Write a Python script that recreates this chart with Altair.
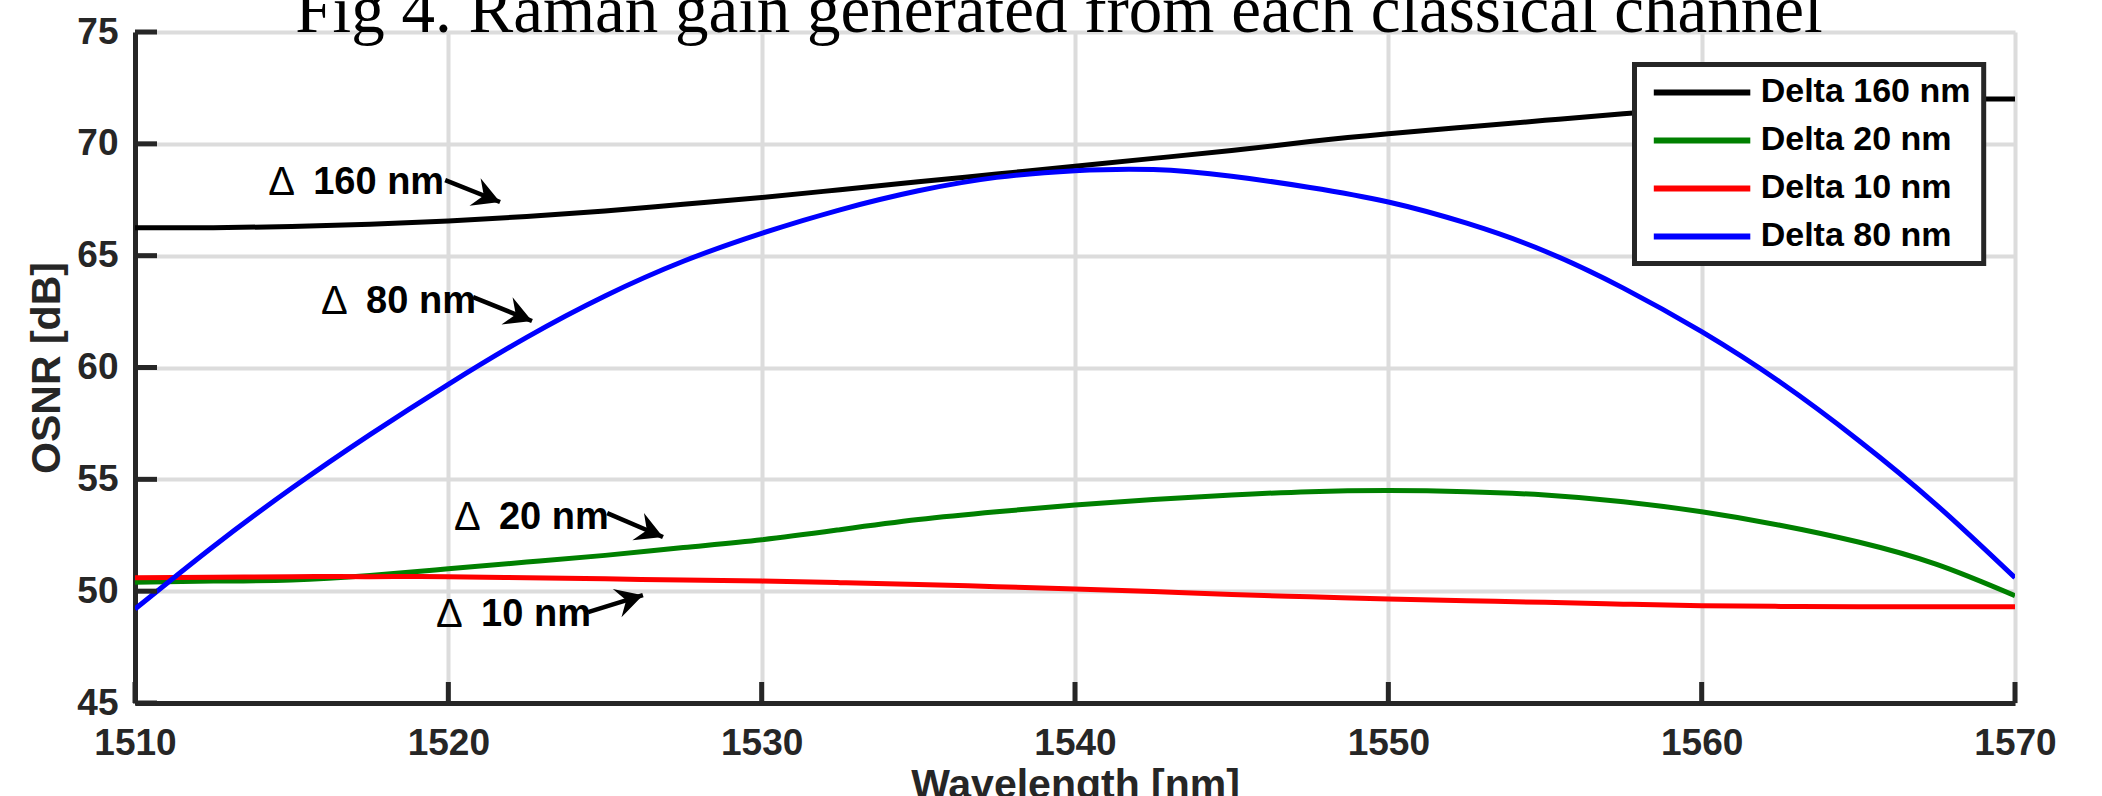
import altair as alt
import pandas as pd

# ---------------- data ----------------
wavelength = [1510, 1512.5, 1515, 1517.5, 1520, 1522.5, 1525, 1527.5, 1530, 1532.5,
              1535, 1537.5, 1540, 1542.5, 1545, 1547.5, 1550, 1552.5, 1555, 1557.5,
              1560, 1562.5, 1565, 1567.5, 1570]

osnr_160 = [66.25, 66.25, 66.3, 66.4, 66.55, 66.75, 67.0, 67.3, 67.6, 67.95,
            68.3, 68.65, 69.0, 69.35, 69.7, 70.1, 70.45, 70.75, 71.05, 71.35,
            71.6, 71.8, 71.95, 72.0, 72.0]
osnr_20 = [50.4, 50.45, 50.5, 50.7, 51.0, 51.3, 51.6, 51.95, 52.3, 52.75,
           53.2, 53.55, 53.85, 54.1, 54.3, 54.45, 54.5, 54.45, 54.3, 54.0,
           53.55, 52.95, 52.2, 51.2, 49.8]
osnr_10 = [50.6, 50.62, 50.65, 50.65, 50.65, 50.6, 50.55, 50.5, 50.45, 50.38,
           50.3, 50.2, 50.1, 49.98, 49.85, 49.75, 49.65, 49.57, 49.5, 49.42,
           49.35, 49.32, 49.3, 49.3, 49.3]
osnr_80 = [49.2, 52.0, 54.6, 57.0, 59.25, 61.35, 63.2, 64.75, 66.0, 67.05,
           67.9, 68.5, 68.8, 68.85, 68.55, 68.05, 67.4, 66.45, 65.2, 63.55,
           61.6, 59.35, 56.75, 53.85, 50.6]

series_names = ["Delta 160 nm", "Delta 20 nm", "Delta 10 nm", "Delta 80 nm"]
series_values = [osnr_160, osnr_20, osnr_10, osnr_80]
series_colors = ["#000000", "#008000", "#ff0000", "#0000ff"]

x_ticks = [1510, 1520, 1530, 1540, 1550, 1560, 1570]
y_ticks = [45, 50, 55, 60, 65, 70, 75]

# annotations (text left / centre, arrow start -> arrow tip)
ann_labels = ["160 nm", "80 nm", "20 nm", "10 nm"]
ann_x = [1514.25, 1515.94, 1520.18, 1519.61]
ann_y = [68.25, 62.93, 53.27, 48.93]
arrow_x0 = [1519.90, 1520.79, 1525.07, 1524.46]
arrow_y0 = [68.38, 63.15, 53.49, 49.06]
arrow_x1 = [1521.65, 1522.67, 1526.85, 1526.21]
arrow_y1 = [67.40, 62.08, 52.42, 49.82]
arrow_angle = [22, 22, 23, 343]

title_text = "Fig 4. Raman gain generated from each classical channel"

# ---------------- tables ----------------
rows = []
for name, vals in zip(series_names, series_values):
    for w, v in zip(wavelength, vals):
        rows.append({"series": name, "wl": w, "osnr": v})
lines_df = pd.DataFrame(rows)

ann_df = pd.DataFrame({"label": ann_labels, "x": ann_x, "y": ann_y,
                       "x0": arrow_x0, "y0": arrow_y0, "x1": arrow_x1, "y1": arrow_y1,
                       "ang": arrow_angle, "delta": ["\u0394"] * len(ann_labels)})
xt_df = pd.DataFrame({"t": x_ticks})
yt_df = pd.DataFrame({"t": y_ticks})
leg_df = pd.DataFrame({"series": series_names})
one_df = pd.DataFrame({"title": [title_text]})

W, H = 1880, 671
FONT = "Liberation Sans"
AX = "#262626"

x_scale = alt.Scale(domain=[1510, 1570], nice=False, zero=False)
y_scale = alt.Scale(domain=[45, 75], nice=False, zero=False)
color_scale = alt.Scale(domain=series_names, range=series_colors)

x_axis = alt.Axis(values=x_ticks, format="d", title="Wavelength [nm]", grid=True,
                  labelPadding=22, labelFlush=False, titleY=94.5,
                  titleBaseline="alphabetic", titleAlign="center", titleX=W / 2)
y_axis = alt.Axis(values=y_ticks, format="d", title="OSNR [dB]", grid=True,
                  labelPadding=17, titleX=-76, titleY=H / 2,
                  titleBaseline="alphabetic", titleAlign="center", titleAngle=270)


def X(field):
    return alt.X(field, type="quantitative", scale=x_scale, axis=x_axis)


def Y(field):
    return alt.Y(field, type="quantitative", scale=y_scale, axis=y_axis)


layers = []
for name in series_names:
    layers.append(
        alt.Chart(lines_df).transform_filter(alt.datum.series == name)
        .mark_line(strokeWidth=5, interpolate="natural", clip=True)
        .encode(x=X("wl"), y=Y("osnr"),
                color=alt.Color("series:N", scale=color_scale, legend=None))
    )

# inner ticks
xticks_layer = alt.Chart(xt_df).mark_rule(color=AX, strokeWidth=5).encode(
    x=X("t"), y=alt.value(H), y2=alt.value(H - 21))
yticks_layer = alt.Chart(yt_df).mark_rule(color=AX, strokeWidth=5).encode(
    y=Y("t"), x=alt.value(0), x2=alt.value(22))

# annotations
shafts = alt.Chart(ann_df).mark_rule(color="black", strokeWidth=4.5).encode(
    x=X("x0"), y=Y("y0"), x2="x1", y2="y1")
heads = alt.Chart(ann_df).mark_point(
    shape="M0,0 L-1,-0.55 L-0.65,0 L-1,0.55 Z", filled=True, color="black",
    opacity=1, size=2900).encode(
    x=X("x1"), y=Y("y1"), angle=alt.Angle("ang:Q", scale=None))
deltas = alt.Chart(ann_df).mark_text(
    font=FONT, fontSize=40, fontWeight="normal", align="left", baseline="middle",
    color="black").encode(x=X("x"), y=Y("y"), text="delta:N")
ann_text = alt.Chart(ann_df).mark_text(
    font=FONT, fontSize=38, fontWeight="bold", align="left", baseline="middle",
    dx=45, color="black").encode(x=X("x"), y=Y("y"), text="label:N")

main = alt.layer(*layers, xticks_layer, yticks_layer, shafts, heads, deltas, ann_text)

# legend (drawn by hand)
leg_y = alt.Y("series:N", scale=alt.Scale(type="point", domain=series_names,
                                           range=[60.4, 204.4], padding=0), axis=None)
leg_box = alt.Chart(one_df).mark_rect(fill="white", stroke=AX, strokeWidth=5).encode(
    x=alt.value(1499.5), x2=alt.value(1848.7), y=alt.value(32.5), y2=alt.value(231.5))
leg_lines = alt.Chart(leg_df).mark_rule(strokeWidth=6).encode(
    y=leg_y, x=alt.value(1518.8), x2=alt.value(1615.3),
    color=alt.Color("series:N", scale=color_scale, legend=None))
leg_text = alt.Chart(leg_df).mark_text(
    font=FONT, fontSize=34, fontWeight="bold", align="left", baseline="middle",
    color="black").encode(y=leg_y, x=alt.value(1625.7), text="series:N")
title_layer = alt.Chart(one_df).mark_text(
    font="Liberation Serif", fontSize=67, align="center", baseline="alphabetic",
    color="black").encode(x=alt.value(924), y=alt.value(-0.5), text="title:N")

legend = alt.layer(leg_box, leg_lines, leg_text, title_layer)

chart = alt.layer(main, legend).resolve_scale(y="independent").properties(
    width=W, height=H,
    autosize=alt.AutoSizeParams(type="none"),
    padding={"left": 135, "top": 32, "right": 87, "bottom": 93},
    background="white",
).configure_view(stroke=None).configure_axis(
    domainColor=AX, domainWidth=5, gridColor="#dcdcdc", gridWidth=4, gridOpacity=1,
    ticks=False, tickSize=0,
    labelFont=FONT, labelFontWeight="bold", labelFontSize=37, labelColor=AX,
    titleFont=FONT, titleFontWeight="bold", titleFontSize=41, titleColor=AX,
)

chart.save("out.html", embed_options={"renderer": "svg", "actions": False})
